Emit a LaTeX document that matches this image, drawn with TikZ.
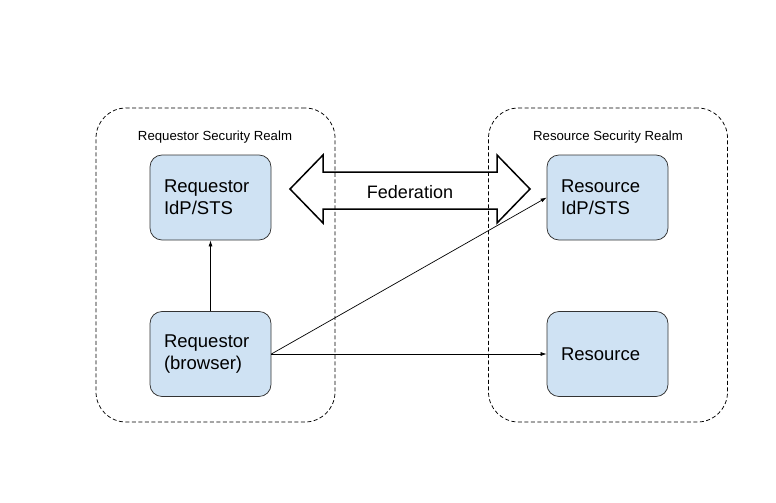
\documentclass[tikz,border=0pt]{standalone}
\usepackage{fontspec}
\setmainfont{Liberation Sans}
\usetikzlibrary{arrows.meta}
\definecolor{boxblue}{HTML}{CFE2F3}
\definecolor{boxline}{HTML}{333333}
\begin{document}
\begin{tikzpicture}[x=1pt,y=-1pt,
  realm/.style={draw=black, dash pattern=on 4pt off 2.5pt, line width=0.75pt,
    rounded corners=30pt, minimum width=239pt, minimum height=314pt, inner sep=0pt},
  realmlabel/.style={font=\fontsize{13.2}{15}\selectfont, inner sep=0pt},
  entity/.style={draw=boxline, fill=boxblue, line width=0.75pt, rounded corners=12pt,
    minimum width=121pt, minimum height=85pt, text width=93pt, inner xsep=14pt,
    align=left, font=\fontsize{18.5}{22}\selectfont},
  arr/.style={-{Latex[length=6pt,width=4pt]}, line width=0.7pt},
  fed/.style={draw=black, line width=1.5pt, line join=miter}
]
\useasboundingbox (0,0) rectangle (776,503);
% realms
\node[realm] (lrealm) at (215.5,265) {};
\node[realm] (rrealm) at (608,265) {};
\node[realmlabel] (llab) at (215,137) {Requestor Security Realm};
\node[realmlabel] (rlab) at (608,137) {Resource Security Realm};
% entities
\node[entity] (ri) at (210.5,197.5) {Requestor\\IdP/STS};
\node[entity] (rb) at (210.5,354) {Requestor\\(browser)};
\node[entity] (si) at (607.5,197.5) {Resource\\IdP/STS};
\node[entity] (sr) at (607.5,354) {Resource};
% federation arrow
\coordinate (fl) at (290,189);
\coordinate (fr) at (530,189);
\draw[fed] (fl) -- (323,155) -- (323,172) -- (497,172) -- (497,155) -- (fr)
  -- (497,223) -- (497,209) -- (323,209) -- (323,223) -- cycle;
\node[font=\fontsize{18}{22}\selectfont, inner sep=0pt] (fedtext) at (410,192) {Federation};
% connectors
\draw[arr] (rb.north) -- (ri.south);
\draw[arr] (rb.east) -- (si.west);
\draw[arr] (rb.east) -- (sr.west);
\end{tikzpicture}
\end{document}
